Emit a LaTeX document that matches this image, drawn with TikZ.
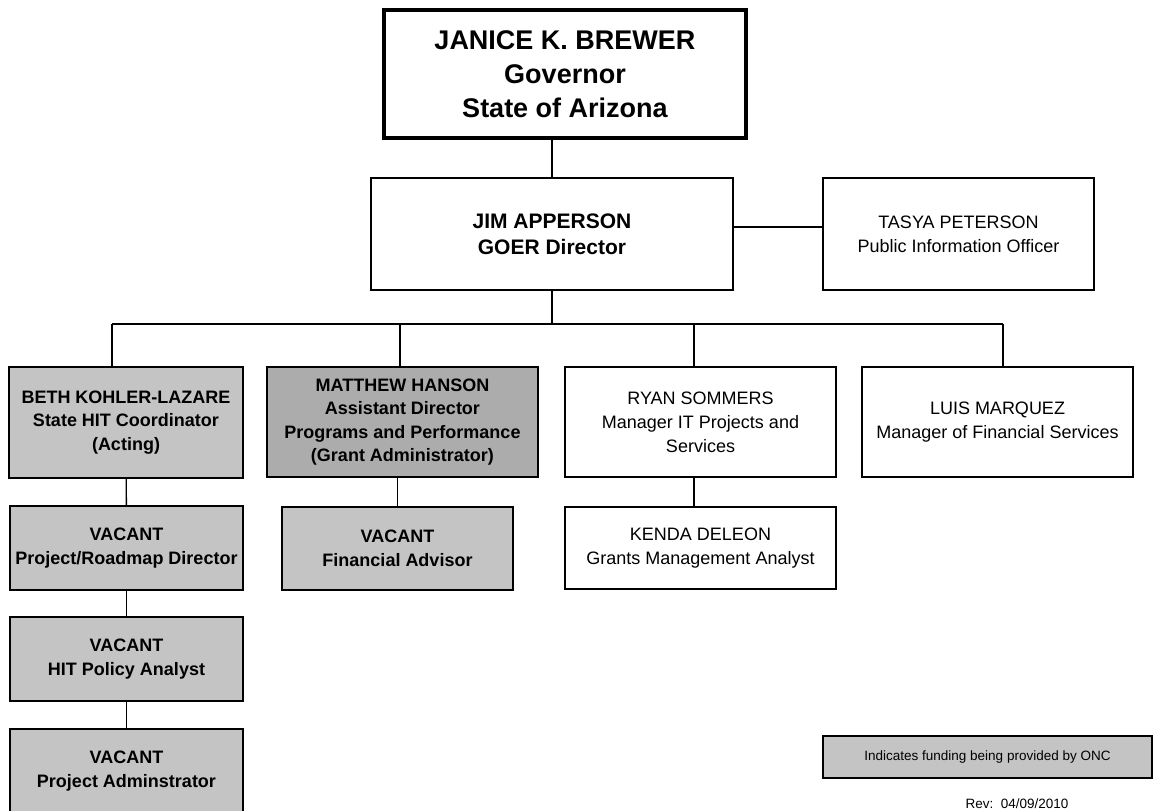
\documentclass[tikz,border=0pt]{standalone}
\usepackage{fontspec}
\setmainfont{Liberation Sans}
\usetikzlibrary{positioning}
\definecolor{fundgray}{RGB}{196,196,196}
\definecolor{grantgray}{RGB}{172,172,172}

\begin{document}
\begin{tikzpicture}[x=1pt, y=-1pt, line width=1.4pt,
    post/.style = {draw, rectangle, align=center, inner sep=2pt, font=\fontsize{18}{24}\selectfont},
    funded/.style = {post, fill=fundgray, font=\bfseries\fontsize{18}{23.5}\selectfont},
    head/.style = {post, font=\bfseries\fontsize{21}{26}\selectfont},
    lead/.style = {post, line width=3.3pt, font=\bfseries\fontsize{27}{34}\selectfont}]
  \path[use as bounding box, fill=white] (0,0) rectangle (1154,811);

  \node[lead, minimum width=362, minimum height=128] (gov) at (565,74) {JANICE K. BREWER\\Governor\\State of Arizona};
  \node[head, minimum width=362, minimum height=112] (jim) at (552,234) {JIM APPERSON\\GOER Director};
  \node[post, minimum width=271, minimum height=112] (tasya) at (958.5,234) {TASYA PETERSON\\Public Information Officer};

  \node[funded, minimum width=234, minimum height=111] (beth) at (126,422.5) {BETH KOHLER-LAZARE\\State HIT Coordinator\\(Acting)};
  \node[funded, fill=grantgray, minimum width=271, minimum height=110] (matt) at (402.5,422) {MATTHEW HANSON\\Assistant Director\\Programs and Performance\\(Grant Administrator)};
  \node[post, minimum width=271, minimum height=110] (ryan) at (700.5,422) {RYAN SOMMERS\\Manager IT Projects and\\Services};
  \node[post, minimum width=271, minimum height=110] (luis) at (997.5,422) {LUIS MARQUEZ\\Manager of Financial Services};

  \node[funded, minimum width=233, minimum height=84] (vpr) at (126.5,548) {VACANT\\Project/Roadmap Director};
  \node[funded, minimum width=233, minimum height=84] (vhit) at (126.5,659) {VACANT\\HIT Policy Analyst};
  \node[funded, minimum width=233, minimum height=84] (vadm) at (126.5,771) {VACANT\\Project Adminstrator};
  \node[funded, minimum width=231, minimum height=83] (vfin) at (397.5,548.5) {VACANT\\Financial Advisor};
  \node[post, minimum width=271, minimum height=82] (kenda) at (700.5,548) {KENDA DELEON\\Grants Management Analyst};

  \node[post, fill=fundgray, minimum width=329, minimum height=42, font=\fontsize{13.5}{16}\selectfont] (legend) at (987.5,757) {Indicates funding being provided by ONC};
  \node[font=\fontsize{13.5}{16}\selectfont] (rev) at (1017,804) {Rev:\ \ 04/09/2010};

  % bus under the director
  \coordinate (b1) at (112,324);
  \coordinate (b2) at (400,324);
  \coordinate (b3) at (694,324);
  \coordinate (b4) at (1003,324);
  \coordinate (pio) at (778,227);

  \draw (jim.north) -- (jim.north |- gov.south);
  \draw[line width=2.2pt] (jim.east |- pio) -- (tasya.west |- pio);
  \draw (jim.south) -- (jim.south |- b1);
  \draw (b1) -- (b4);
  \draw (b1) -- (b1 |- beth.north);
  \draw (b2) -- (b2 |- matt.north);
  \draw (b3) -- (b3 |- ryan.north);
  \draw (b4) -- (b4 |- luis.north);

  \path[-]
    (beth) edge (vpr)
    (vpr)  edge (vhit)
    (vhit) edge (vadm)
    (vfin.north) edge (vfin.north |- matt.south)
    (b3 |- ryan.south) edge (b3 |- kenda.north);
\end{tikzpicture}
\end{document}
